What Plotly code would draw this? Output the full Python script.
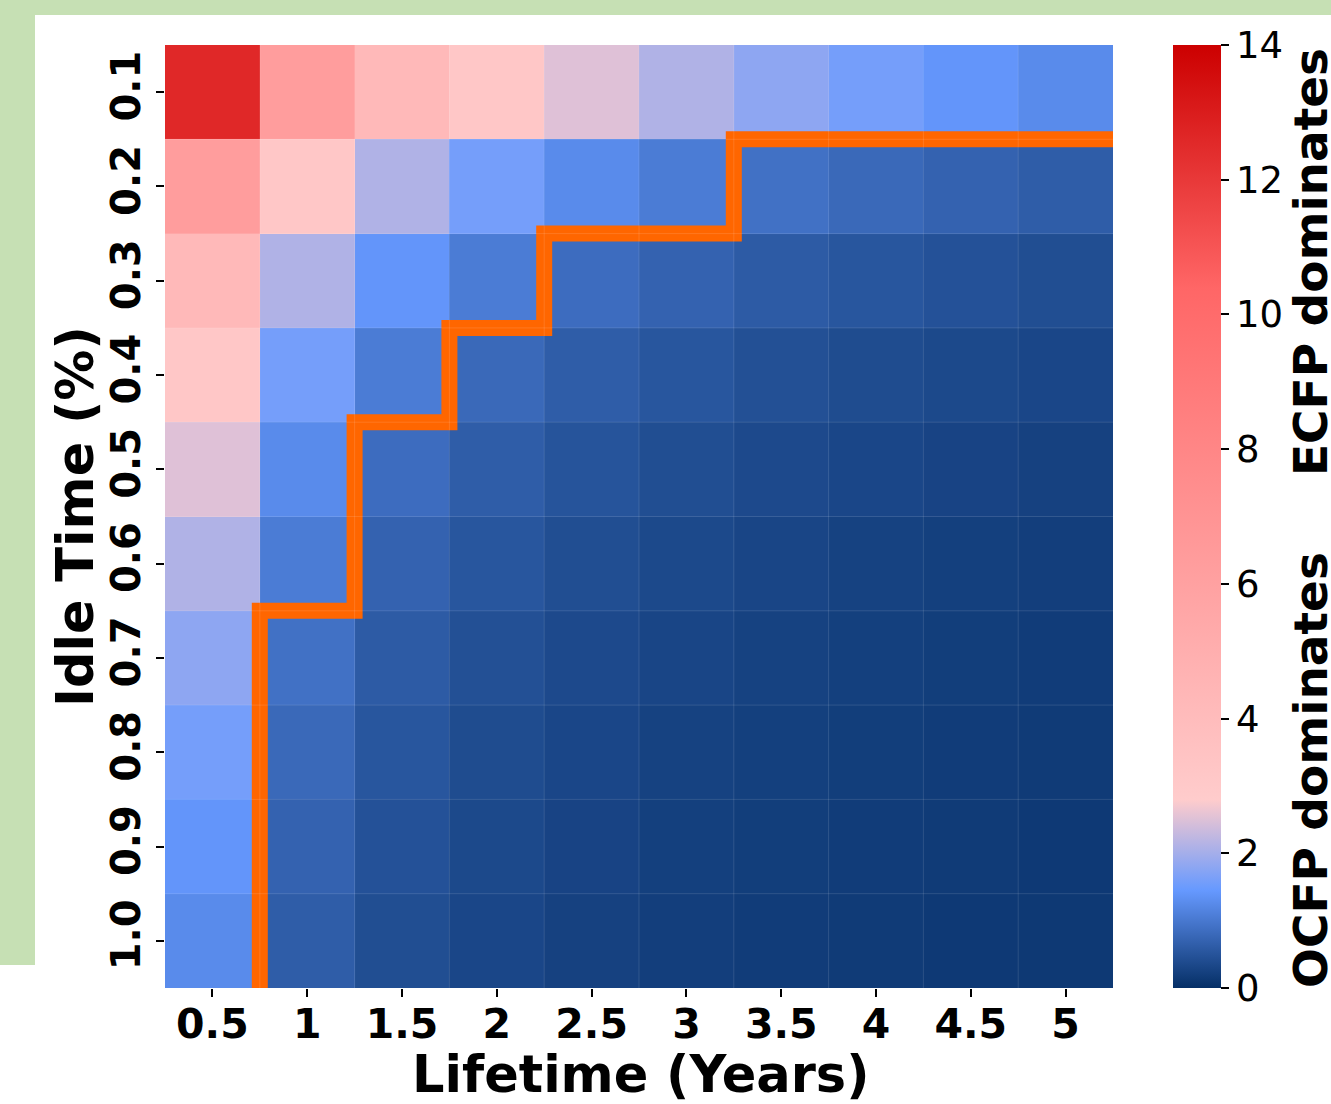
import plotly.graph_objects as go

# ---- data ----
lifetime_labels = ["0.5", "1", "1.5", "2", "2.5", "3", "3.5", "4", "4.5", "5"]
idle_labels = ["0.1", "0.2", "0.3", "0.4", "0.5", "0.6", "0.7", "0.8", "0.9", "1.0"]

row_01 = [12.6, 6.3, 4.2, 3.15, 2.52, 2.1, 1.8, 1.58, 1.4, 1.26]
row_02 = [6.3, 3.15, 2.1, 1.58, 1.26, 1.05, 0.9, 0.79, 0.7, 0.63]
row_03 = [4.2, 2.1, 1.4, 1.05, 0.84, 0.7, 0.6, 0.53, 0.47, 0.42]
row_04 = [3.15, 1.58, 1.05, 0.79, 0.63, 0.53, 0.45, 0.39, 0.35, 0.32]
row_05 = [2.52, 1.26, 0.84, 0.63, 0.5, 0.42, 0.36, 0.32, 0.28, 0.25]
row_06 = [2.1, 1.05, 0.7, 0.53, 0.42, 0.35, 0.3, 0.26, 0.23, 0.21]
row_07 = [1.8, 0.9, 0.6, 0.45, 0.36, 0.3, 0.26, 0.23, 0.2, 0.18]
row_08 = [1.58, 0.79, 0.53, 0.39, 0.32, 0.26, 0.23, 0.2, 0.18, 0.16]
row_09 = [1.4, 0.7, 0.47, 0.35, 0.28, 0.23, 0.2, 0.18, 0.16, 0.14]
row_10 = [1.26, 0.63, 0.42, 0.32, 0.25, 0.21, 0.18, 0.16, 0.14, 0.13]
values = [row_01, row_02, row_03, row_04, row_05, row_06, row_07, row_08, row_09, row_10]

threshold = 1.0
cbar_ticks = [0, 2, 4, 6, 8, 10, 12, 14]
zmax = 14

nx = len(lifetime_labels)
ny = len(idle_labels)
xi = list(range(nx))
yi = list(range(ny))

colorscale = [
    [0.0, "#052f66"],
    [1.45 / 14, "#6699ff"],
    [2.8 / 14, "#ffcccc"],
    [10.4 / 14, "#ff6666"],
    [1.0, "#cc0000"],
]

# boundary column (first cell below threshold) per row
bounds = []
for row in values:
    b = nx
    for j, v in enumerate(row):
        if v < threshold:
            b = j
            break
    bounds.append(b - 0.5)

# step line from bottom to top
lx, ly = [], []
for r in range(ny - 1, -1, -1):
    bx = bounds[r]
    if bx >= nx - 0.5:
        break
    lx += [bx, bx]
    ly += [r + 0.5, r - 0.5]
    if r - 1 >= 0:
        lx.append(bounds[r - 1])
        ly.append(r - 0.5)

fig = go.Figure()
fig.add_trace(go.Heatmap(
    z=values, x=xi, y=yi,
    colorscale=colorscale, zmin=0, zmax=zmax,
    colorbar=dict(
        thickness=48, len=1, lenmode="fraction", y=0, yanchor="bottom",
        x=(1173 - 165) / 948, xanchor="left", xpad=0, ypad=0,
        outlinewidth=0, tickvals=cbar_ticks, ticks="outside", ticklen=8,
        tickwidth=1.5, tickcolor="black",
        tickfont=dict(family="DejaVu Sans", size=37, color="black"),
    ),
    hoverongaps=False,
))
fig.add_trace(go.Scatter(
    x=lx, y=ly, mode="lines",
    line=dict(color="#ff6600", width=16),
    showlegend=False, hoverinfo="skip",
))

shapes = []
# faint cell separators
for k in range(1, nx):
    shapes.append(dict(type="line", xref="x", yref="y", x0=k - 0.5, x1=k - 0.5,
                       y0=-0.5, y1=ny - 0.5, line=dict(color="rgba(255,255,255,0.12)", width=1),
                       layer="above"))
for k in range(1, ny):
    shapes.append(dict(type="line", xref="x", yref="y", y0=k - 0.5, y1=k - 0.5,
                       x0=-0.5, x1=nx - 0.5, line=dict(color="rgba(255,255,255,0.12)", width=1),
                       layer="above"))
# green background bands
green = "#c6e0b4"
L, R, T, B = 165, 1113, 45, 988
W, H = R - L, B - T
def px(x):
    return (x - L) / W
def py(y):
    return (B - y) / H
shapes.append(dict(type="rect", xref="paper", yref="paper", x0=px(0), x1=px(1331),
                   y0=py(15), y1=py(0), fillcolor=green, line=dict(width=0), layer="below"))
shapes.append(dict(type="rect", xref="paper", yref="paper", x0=px(0), x1=px(35),
                   y0=py(965), y1=py(0), fillcolor=green, line=dict(width=0), layer="below"))

bold = dict(family="DejaVu Sans", color="black", weight="bold")

fig.update_layout(
    width=1331, height=1104,
    margin=dict(l=L, r=1331 - R, t=T, b=1104 - B),
    paper_bgcolor="white", plot_bgcolor="white",
    shapes=shapes,
    showlegend=False,
    xaxis=dict(
        tickvals=xi, ticktext=lifetime_labels, range=[-0.5, nx - 0.5],
        ticks="outside", ticklen=8, tickwidth=1.5, tickcolor="black",
        ticklabelstandoff=-8,
        tickfont=dict(size=41, **bold), showgrid=False, zeroline=False,
    ),
    yaxis=dict(
        tickvals=yi, ticktext=idle_labels, range=[ny - 0.5, -0.5],
        ticks="outside", ticklen=8, tickwidth=1.5, tickcolor="black",
        tickangle=-90, ticklabelstandoff=0,
        tickfont=dict(size=40, **bold), showgrid=False, zeroline=False,
    ),
    annotations=[
        dict(text="Lifetime (Years)", xref="paper", yref="paper", x=px(640), y=py(1074),
             showarrow=False, font=dict(size=51, **bold), xanchor="center", yanchor="middle"),
        dict(text="Idle Time (%)", xref="paper", yref="paper", x=px(75), y=py(517),
             textangle=-90, showarrow=False, font=dict(size=51, **bold),
             xanchor="center", yanchor="middle"),
        dict(text="ECFP dominates", xref="paper", yref="paper", x=px(1310), y=py(262),
             textangle=-90, showarrow=False, font=dict(size=47, **bold),
             xanchor="center", yanchor="middle"),
        dict(text="OCFP dominates", xref="paper", yref="paper", x=px(1310), y=py(770),
             textangle=-90, showarrow=False, font=dict(size=47, **bold),
             xanchor="center", yanchor="middle"),
    ],
)

fig.write_html(
    "out.html",
    config={"displayModeBar": False},
    post_script="document.body.style.margin='0';document.body.style.overflow='hidden';",
)
